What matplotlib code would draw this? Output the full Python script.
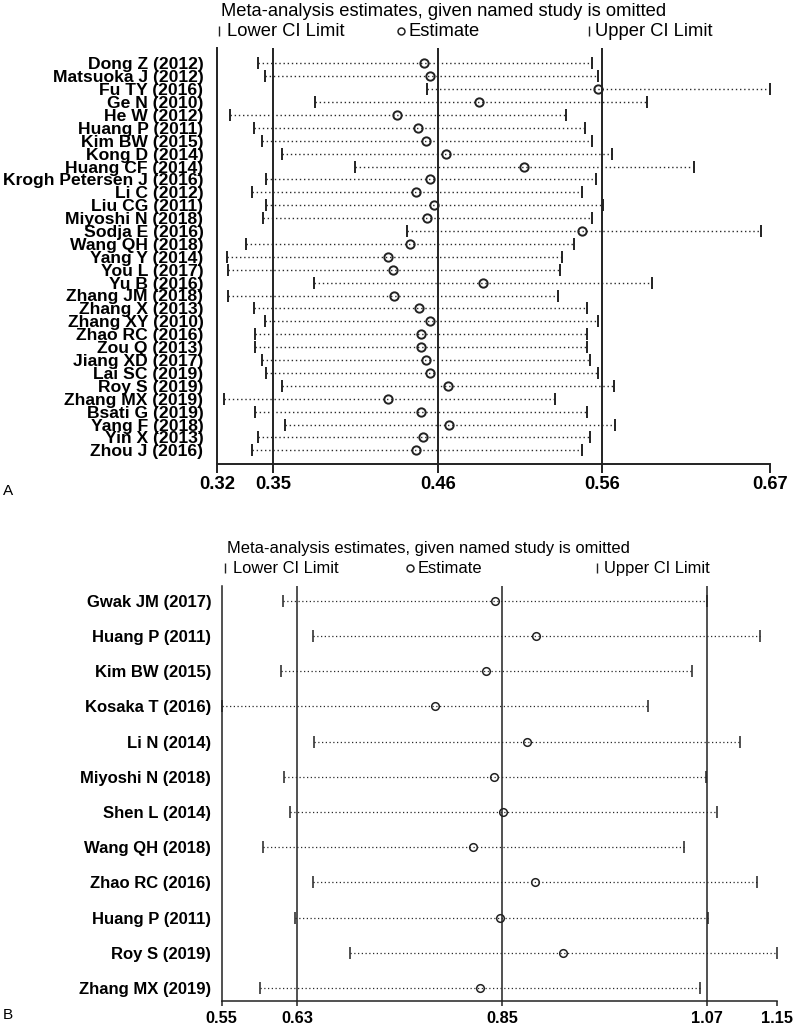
import matplotlib.pyplot as plt
import numpy as np
from matplotlib.lines import Line2D

plt.rcParams['font.family'] = ['Liberation Sans', 'DejaVu Sans']

# Panel A: estimates when each named study is omitted
studies_a = ["Dong Z (2012)", "Matsuoka J (2012)", "Fu TY (2016)", "Ge N (2010)", "He W (2012)",
             "Huang P (2011)", "Kim BW (2015)", "Kong D (2014)", "Huang CF (2014)",
             "Krogh Petersen J (2016)", "Li C (2012)", "Liu CG (2011)", "Miyoshi N (2018)",
             "Sodja E (2016)", "Wang QH (2018)", "Yang Y (2014)", "You L (2017)", "Yu B (2016)",
             "Zhang JM (2018)", "Zhang X (2013)", "Zhang XY (2010)", "Zhao RC (2016)",
             "Zou Q (2013)", "Jiang XD (2017)", "Lai SC (2019)", "Roy S (2019)",
             "Zhang MX (2019)", "Bsati G (2019)", "Yang F (2018)", "Yin X (2013)", "Zhou J (2016)"]
lower_a = [0.346, 0.350, 0.453, 0.382, 0.328, 0.343, 0.348, 0.361, 0.407, 0.351, 0.342,
           0.351, 0.349, 0.440, 0.338, 0.326, 0.327, 0.381, 0.327, 0.343, 0.350, 0.344,
           0.344, 0.348, 0.351, 0.361, 0.324, 0.344, 0.363, 0.346, 0.342]
est_a = [0.451, 0.455, 0.561, 0.486, 0.434, 0.447, 0.452, 0.465, 0.514, 0.455, 0.446,
         0.457, 0.453, 0.551, 0.442, 0.428, 0.431, 0.488, 0.432, 0.448, 0.455, 0.449,
         0.449, 0.452, 0.455, 0.466, 0.428, 0.449, 0.467, 0.450, 0.446]
upper_a = [0.557, 0.561, 0.670, 0.592, 0.541, 0.553, 0.557, 0.570, 0.622, 0.560, 0.551,
           0.564, 0.557, 0.664, 0.546, 0.538, 0.537, 0.595, 0.536, 0.554, 0.561, 0.554,
           0.554, 0.556, 0.561, 0.571, 0.534, 0.554, 0.572, 0.556, 0.551]
overall_a = [0.3555, 0.460, 0.5634]   # lower CI, estimate, upper CI (reference lines)
xlim_a = (0.32, 0.67)
ticklabels_a = ["0.32", "0.35", "0.46", "0.56", "0.67"]

# Panel B
studies_b = ["Gwak JM (2017)", "Huang P (2011)", "Kim BW (2015)", "Kosaka T (2016)",
             "Li N (2014)", "Miyoshi N (2018)", "Shen L (2014)", "Wang QH (2018)",
             "Zhao RC (2016)", "Huang P (2011)", "Roy S (2019)", "Zhang MX (2019)"]
lower_b = [0.616, 0.649, 0.614, 0.550, 0.650, 0.617, 0.624, 0.595, 0.649, 0.629, 0.689, 0.591]
est_b = [0.845, 0.889, 0.835, 0.780, 0.880, 0.844, 0.854, 0.821, 0.888, 0.851, 0.919, 0.829]
upper_b = [1.074, 1.131, 1.058, 1.010, 1.110, 1.073, 1.085, 1.049, 1.128, 1.075, 1.150, 1.067]
overall_b = [0.6316, 0.853, 1.0738]
xlim_b = (0.55, 1.15)
ticklabels_b = ["0.55", "0.63", "0.85", "1.07", "1.15"]

title = "Meta-analysis estimates, given named study is omitted"

W, H = 800, 1028
fig = plt.figure(figsize=(W / 100, H / 100), dpi=100)


def fx(px):
    return px / W


def fy(py):
    return 1 - py / H


def panel(left, right, top, bottom, row0, step, studies, lo, est, hi, overall, xlim, ticklabels, s):
    ax = fig.add_axes([fx(left), fy(bottom), fx(right) - fx(left), fy(top) - fy(bottom)])
    y = np.arange(len(studies))
    ax.set_xlim(xlim)
    ax.set_ylim((bottom - row0) / step, -(row0 - top) / step)
    for v in overall:
        ax.axvline(v, color='#222222', lw=s['ref_lw'], zorder=1)
    # dotted CI lines
    for i in range(len(studies)):
        ax.plot([lo[i], hi[i]], [y[i], y[i]], color='#2a2a2a', lw=s['dot_lw'],
                linestyle=(0, (1, 2)), zorder=2)
    ax.plot(lo, y, '|', color='#222222', ms=s['bar_ms'], mew=s['bar_mew'], clip_on=False, zorder=3)
    ax.plot(hi, y, '|', color='#222222', ms=s['bar_ms'], mew=s['bar_mew'], clip_on=False, zorder=3)
    ax.plot(est, y, 'o', mfc='none', mec='#222222', ms=s['circ_ms'], mew=s['circ_mew'],
            clip_on=False, zorder=4)
    ax.set_yticks(y)
    ax.set_yticklabels(studies, fontsize=s['ylab_fs'], fontweight='bold')
    ax.tick_params(axis='y', length=0, pad=s['ypad'])
    ax.set_xticks([xlim[0]] + overall + [xlim[1]])
    ax.set_xticklabels(ticklabels, fontsize=s['xlab_fs'], fontweight='bold')
    ax.tick_params(axis='x', length=s['tick_len'], width=s['ref_lw'], pad=s['xpad'], color='#222222')
    for sp in ['top', 'right']:
        ax.spines[sp].set_visible(False)
    for sp in ['left', 'bottom']:
        ax.spines[sp].set_linewidth(s['ref_lw'])
        ax.spines[sp].set_color('#222222')
    return ax


def header(ty, ly, tx, items, fs):
    fig.text(fx(tx), fy(ty), title, fontsize=fs, ha='left', va='center')
    for sym_x, text_x, marker, label in items:
        if marker == '|':
            fig.add_artist(Line2D([fx(sym_x)], [fy(ly)], marker='|', color='#222222',
                                  ms=7, mew=1.0, transform=fig.transFigure))
        else:
            fig.add_artist(Line2D([fx(sym_x)], [fy(ly)], marker='o', mfc='none', mec='#222222',
                                  ms=5, mew=1.1, transform=fig.transFigure))
        fig.text(fx(text_x), fy(ly), label, fontsize=fs, ha='left', va='center')


style_a = dict(ref_lw=1.4, dot_lw=1.0, bar_ms=8.6, bar_mew=1.4, circ_ms=6, circ_mew=1.4,
               ylab_fs=12.6, xlab_fs=13.3, ypad=10, xpad=2, tick_len=6.5)
style_b = dict(ref_lw=1.1, dot_lw=0.9, bar_ms=9, bar_mew=1.1, circ_ms=5.5, circ_mew=1.1,
               ylab_fs=12, xlab_fs=11.8, ypad=7.5, xpad=4, tick_len=3.5)

panel(217.3, 770, 48.3, 464, 63.3, 12.9, studies_a, lower_a, est_a, upper_a,
      overall_a, xlim_a, ticklabels_a, style_a)
panel(221.7, 777.3, 586, 1000.7, 600.7, 35.2, studies_b, lower_b, est_b, upper_b,
      overall_b, xlim_b, ticklabels_b, style_b)

header(11, 31, 221, [(219, 227, '|', 'Lower CI Limit'), (401, 409, 'o', 'Estimate'),
                     (589, 595, '|', 'Upper CI Limit')], 13.2)
header(548, 568.3, 227, [(225, 233, '|', 'Lower CI Limit'), (410, 418, 'o', 'Estimate'),
                         (596.7, 604, '|', 'Upper CI Limit')], 11.9)

fig.text(fx(3), fy(491), 'A', fontsize=11, ha='left', va='center')
fig.text(fx(3), fy(1015), 'B', fontsize=11, ha='left', va='center')

plt.savefig('out.png', dpi=100)
